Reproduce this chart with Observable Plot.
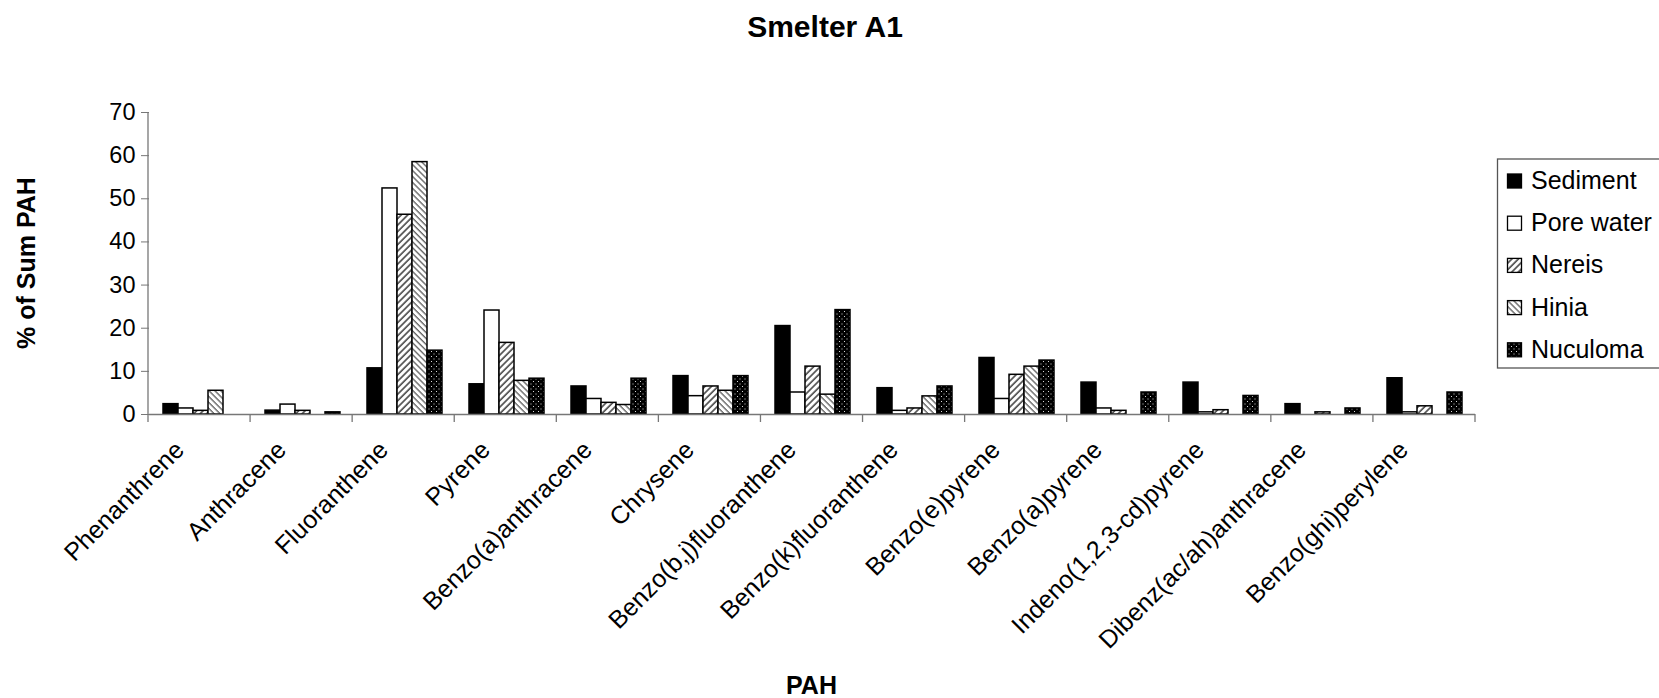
<!DOCTYPE html>
<html>
<head>
<meta charset="utf-8">
<script src="https://cdn.jsdelivr.net/npm/d3@7"></script>
<script src="https://cdn.jsdelivr.net/npm/@observablehq/plot@0.6"></script>
<style>
  html, body { margin: 0; padding: 0; background: #fff; }
  svg { display: block; }
</style>
</head>
<body>
<div id="chart"></div>
<script>
// ---- data ----
const categories = [
  "Phenanthrene", "Anthracene", "Fluoranthene", "Pyrene", "Benzo(a)anthracene",
  "Chrysene", "Benzo(b,j)fluoranthene", "Benzo(k)fluoranthene", "Benzo(e)pyrene",
  "Benzo(a)pyrene", "Indeno(1,2,3-cd)pyrene", "Dibenz(ac/ah)anthracene", "Benzo(ghi)perylene"
];
const seriesNames = ["Sediment", "Pore water", "Nereis", "Hinia", "Nuculoma"];
const sediment  = [2.4, 0.9, 10.7, 7.0, 6.5, 8.9, 20.5, 6.1, 13.1, 7.4, 7.4, 2.4, 8.4];
const poreWater = [1.4, 2.3, 52.4, 24.1, 3.6, 4.25, 5.1, 0.85, 3.6, 1.4, 0.5, 0, 0.5];
const nereis    = [0.85, 0.85, 46.3, 16.6, 2.7, 6.5, 11.1, 1.4, 9.2, 0.85, 1.0, 0.5, 1.9];
const hinia     = [5.5, 0, 58.5, 7.8, 2.2, 5.5, 4.6, 4.2, 11.1, 0, 0, 0, 0];
const nuculoma  = [0, 0.5, 14.8, 8.3, 8.3, 8.9, 24.2, 6.5, 12.5, 5.1, 4.3, 1.4, 5.1];
const yTicks = [0, 10, 20, 30, 40, 50, 60, 70];
const titleText = "Smelter A1";
const yLabel = "% of Sum PAH";
const xLabel = "PAH";

const seriesValues = [sediment, poreWater, nereis, hinia, nuculoma];
const fills = ["black", "white", "url(#pat-nereis)", "url(#pat-hinia)", "url(#pat-nuculoma)"];

const rows = [];
categories.forEach((cat, i) => {
  seriesNames.forEach((s, j) => {
    const v = seriesValues[j][i];
    if (v > 0) rows.push({cat, series: s, value: v});
  });
});

const font = "'Liberation Sans', Arial, Helvetica, sans-serif";

const plot = Plot.plot({
  width: 1659,
  height: 698,
  marginLeft: 148,
  marginRight: 184,
  marginTop: 112,
  marginBottom: 284,
  style: {fontFamily: font, fontSize: "24px", color: "black", background: "white", overflow: "visible"},
  fx: {domain: categories, padding: 0, axis: null, label: null},
  x: {domain: seriesNames, paddingInner: 0, paddingOuter: 0.75, axis: null, label: null},
  y: {domain: [0, 70], axis: null, label: null},
  color: {type: "ordinal", domain: seriesNames, range: fills},
  marks: [
    Plot.barY(rows, {fx: "cat", x: "series", y: "value", fill: "series", stroke: "black", strokeWidth: 1.5}),
    Plot.ruleY([0], {stroke: "#777", strokeWidth: 1.3}),
    Plot.axisY({ticks: yTicks, tickSize: 8, tickPadding: 6, fontSize: 23.5, label: null, stroke: "#777", fill: "black", tickFormat: d => d}),
    Plot.text(categories, {fx: d => d, text: d => d, frameAnchor: "bottom", rotate: -45, textAnchor: "end", dx: -15, dy: 37, fontSize: 25, fill: "black"})
  ]
});

document.getElementById("chart").appendChild(plot);

const svg = d3.select(plot);

// patterns
const defs = svg.insert("defs", ":first-child");
const pn = defs.append("pattern").attr("id", "pat-nereis").attr("patternUnits", "userSpaceOnUse")
  .attr("width", 4.6).attr("height", 4.6).attr("patternTransform", "rotate(45)");
pn.append("rect").attr("width", 4.6).attr("height", 4.6).attr("fill", "white");
pn.append("line").attr("x1", 1).attr("y1", 0).attr("x2", 1).attr("y2", 4.6).attr("stroke", "#3a3a3a").attr("stroke-width", 1.5);
const ph = defs.append("pattern").attr("id", "pat-hinia").attr("patternUnits", "userSpaceOnUse")
  .attr("width", 4.2).attr("height", 4.2).attr("patternTransform", "rotate(-45)");
ph.append("rect").attr("width", 4.2).attr("height", 4.2).attr("fill", "white");
ph.append("line").attr("x1", 1).attr("y1", 0).attr("x2", 1).attr("y2", 4.2).attr("stroke", "#666").attr("stroke-width", 1.4);
const pd = defs.append("pattern").attr("id", "pat-nuculoma").attr("patternUnits", "userSpaceOnUse")
  .attr("width", 5).attr("height", 5);
pd.append("rect").attr("width", 5).attr("height", 5).attr("fill", "black");
pd.append("rect").attr("x", 1).attr("y", 1).attr("width", 1).attr("height", 1).attr("fill", "#d8d8d8");
pd.append("rect").attr("x", 3.5).attr("y", 3.5).attr("width", 1).attr("height", 1).attr("fill", "#d8d8d8");

// axis lines and category boundary ticks from Plot's scales
const fx = plot.scale("fx");
const ys = plot.scale("y");
const x0 = fx.range[0], x1 = fx.range[1];
const step = (x1 - x0) / categories.length;
const yBase = ys.apply(0), yTop = ys.apply(70);
const axes = svg.append("g").attr("stroke", "#777").attr("stroke-width", 1.3);
axes.append("line").attr("x1", x0).attr("x2", x0).attr("y1", yTop).attr("y2", yBase);
d3.range(categories.length + 1).forEach(i => {
  const x = x0 + i * step;
  axes.append("line").attr("x1", x).attr("x2", x).attr("y1", yBase).attr("y2", yBase + 8);
});

// titles
svg.append("text").attr("x", 825).attr("y", 37).attr("text-anchor", "middle")
  .attr("font-family", font).attr("font-size", 30).attr("font-weight", "bold").text(titleText);
svg.append("text").attr("transform", `translate(35,${(yTop + yBase) / 2}) rotate(-90)`).attr("text-anchor", "middle")
  .attr("font-family", font).attr("font-size", 25).attr("font-weight", "bold").text(yLabel);
svg.append("text").attr("x", (x0 + x1) / 2).attr("y", 694).attr("text-anchor", "middle")
  .attr("font-family", font).attr("font-size", 25).attr("font-weight", "bold").text(xLabel);

// legend
const lg = svg.append("g").attr("font-family", font).attr("font-size", 25).attr("text-anchor", "start");
lg.append("rect").attr("x", 1497.5).attr("y", 159).attr("width", 200).attr("height", 209)
  .attr("fill", "white").attr("stroke", "#555").attr("stroke-width", 1.3);
seriesNames.forEach((s, j) => {
  const top = 174 + j * 42.2;
  lg.append("rect").attr("x", 1507.5).attr("y", top).attr("width", 14).attr("height", 14)
    .attr("fill", fills[j]).attr("stroke", "black").attr("stroke-width", 1.3);
  lg.append("text").attr("x", 1531).attr("y", top + 15).attr("text-anchor", "start").text(s);
});
</script>
</body>
</html>
